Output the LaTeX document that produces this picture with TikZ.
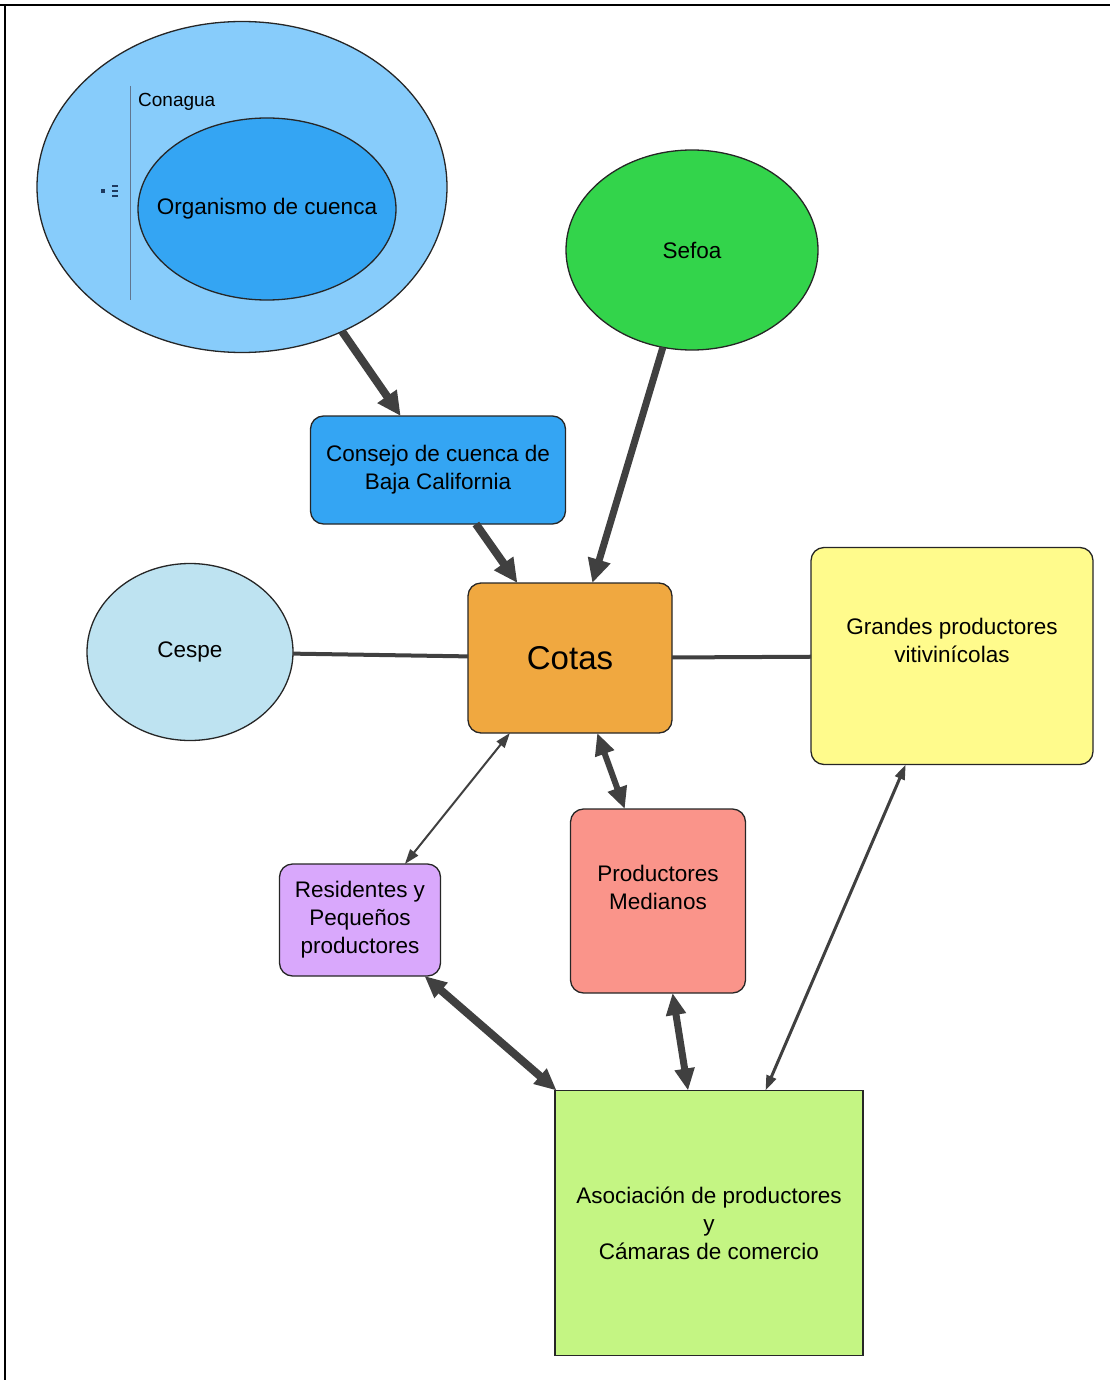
\documentclass[tikz,border=0pt]{standalone}
\usepackage{fontspec}
\setmainfont{Liberation Sans}
\usetikzlibrary{arrows.meta,shapes.geometric}

\definecolor{azulclaro}{HTML}{87CCFB}
\definecolor{azul}{HTML}{34A5F3}
\definecolor{verde}{HTML}{33D44B}
\definecolor{celeste}{HTML}{BEE3F1}
\definecolor{naranja}{HTML}{F0A840}
\definecolor{amarillo}{HTML}{FFFB8C}
\definecolor{lila}{HTML}{D9A8FC}
\definecolor{salmon}{HTML}{FA948A}
\definecolor{lima}{HTML}{C4F583}
\definecolor{gris}{HTML}{404040}
\definecolor{marino}{HTML}{1E3A5F}

\tikzset{
	elipse/.style={ellipse, draw=black!85, line width=1.3pt, inner sep=0pt, outer sep=0pt},
	caja/.style={rectangle, rounded corners=13pt, draw=black!85, line width=1.3pt, inner sep=0pt, outer sep=0pt, align=center},
	gruesa/.style={draw=gris, line width=8pt, -{Triangle[length=24pt,width=22pt]}},
	doble/.style={draw=gris, line width=#1, {Triangle[length=22pt,width=19pt]}-{Triangle[length=22pt,width=19pt]}},
	fina/.style={draw=gris, line width=#1, {Triangle[length=15pt,width=10pt]}-{Triangle[length=15pt,width=10pt]}},
	recta/.style={draw=gris, line width=4pt}
}

\begin{document}
\begin{tikzpicture}[x=1pt, y=-1pt, font=\fontsize{22.5}{28}\selectfont]
			\useasboundingbox (0,0) rectangle (1110,1380);
			
			\draw[line width=2.5pt] (0,5) -- (1110,5);
			\draw[line width=2.5pt] (5,5) -- (5,1380);
			
			%%%%% Conagua %%%%%
			\node[elipse, fill=azulclaro, minimum width=410pt, minimum height=331pt] (conagua) at (242,187) {};
			\draw[line width=1pt, color=marino!70] (130,86) -- (130,300);
			\node[anchor=base west, inner sep=0pt, font=\fontsize{19}{22}\selectfont] (conaguatxt) at (138,107) {Conagua};
			\fill[marino] (101,189) rectangle (105,193);
			\foreach \y in {186,191,196}
				\draw[line width=1.3pt, color=marino] (112,\y) -- (118,\y);
			\node[elipse, inner xsep=-30pt, fill=azul, minimum width=258pt, minimum height=182pt] (organismo) at (267,209) {Organismo de cuenca};
			
			\node[elipse, fill=verde, minimum width=252pt, minimum height=200pt] (sefoa) at (692,250) {Sefoa};
			\node[caja, fill=azul, minimum width=255pt, minimum height=108pt] (consejo) at (438,470) {Consejo de cuenca de\\Baja California};
			\node[caja, fill=naranja, minimum width=204pt, minimum height=150pt, font=\fontsize{33}{40}\selectfont] (cotas) at (570,658) {Cotas};
			\node[elipse, fill=celeste, minimum width=206pt, minimum height=177pt] (cespe) at (190,652) {Cespe};
			\node[caja, fill=amarillo, minimum width=282pt, minimum height=217pt] (grandes) at (952,656) {Grandes productores\\vitivinícolas\\[3pt]\mbox{}};
			\node[caja, fill=lila, minimum width=161pt, minimum height=112pt] (residentes) at (360,920) {Residentes y\\Pequeños\\productores};
			\node[caja, fill=salmon, minimum width=175pt, minimum height=184pt] (medianos) at (658,901) {Productores\\Medianos\\[0pt]\mbox{}};
			\node[caja, rounded corners=0pt, fill=lima, minimum width=308pt, minimum height=265pt] (asociacion) at (709,1223) {Asociación de productores\\y\\Cámaras de comercio};
			
			%%%%% conectores %%%%%
			\draw[gruesa] (conagua) -- (consejo);
			\draw[gruesa] (consejo) -- (cotas);
			\draw[gruesa, line width=7pt] (sefoa) -- (cotas);
			\draw[recta] (cespe) -- (cotas);
			\draw[recta] (cotas) -- (grandes);
			\draw[fina=2pt] (cotas) -- (residentes);
			\draw[doble=6pt] (cotas) -- (medianos);
			\draw[doble=8pt] (residentes) -- (asociacion);
			\draw[doble=7pt] (medianos) -- (asociacion);
			\draw[fina=3pt] (grandes) -- (asociacion);
		\end{tikzpicture}
\end{document}
